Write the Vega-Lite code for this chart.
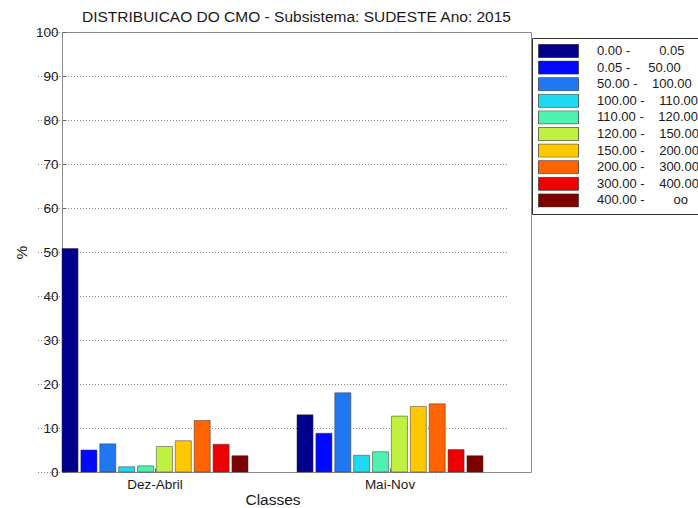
{
  "$schema": "https://vega.github.io/schema/vega-lite/v6.json",
  "width": 469,
  "height": 440,
  "autosize": {"type": "none"},
  "padding": {"left": 62, "top": 32, "right": 167, "bottom": 36},
  "background": "white",
  "title": {
    "text": "DISTRIBUICAO DO CMO - Subsistema: SUDESTE Ano: 2015",
    "font": "Liberation Sans",
    "fontSize": 15.5,
    "fontWeight": "normal",
    "color": "#1a1a1a",
    "anchor": "middle",
    "baseline": "alphabetic",
    "offset": 4,
    "dy": 16
  },
  "config": {
    "font": "Liberation Sans",
    "view": {"stroke": "#8c8c8c", "strokeWidth": 1}
  },
  "data": {
    "values": [
      {"periodo": "Dez-Abril", "classe": "0.00 - 0.05", "valor": 50.8},
      {"periodo": "Dez-Abril", "classe": "0.05 - 50.00", "valor": 5.0},
      {"periodo": "Dez-Abril", "classe": "50.00 - 100.00", "valor": 6.4},
      {"periodo": "Dez-Abril", "classe": "100.00 - 110.00", "valor": 1.2},
      {"periodo": "Dez-Abril", "classe": "110.00 - 120.00", "valor": 1.4},
      {"periodo": "Dez-Abril", "classe": "120.00 - 150.00", "valor": 5.8},
      {"periodo": "Dez-Abril", "classe": "150.00 - 200.00", "valor": 7.1},
      {"periodo": "Dez-Abril", "classe": "200.00 - 300.00", "valor": 11.7},
      {"periodo": "Dez-Abril", "classe": "300.00 - 400.00", "valor": 6.3},
      {"periodo": "Dez-Abril", "classe": "400.00 - oo", "valor": 3.7},
      {"periodo": "Mai-Nov", "classe": "0.00 - 0.05", "valor": 13.0},
      {"periodo": "Mai-Nov", "classe": "0.05 - 50.00", "valor": 8.8},
      {"periodo": "Mai-Nov", "classe": "50.00 - 100.00", "valor": 18.0},
      {"periodo": "Mai-Nov", "classe": "100.00 - 110.00", "valor": 3.8},
      {"periodo": "Mai-Nov", "classe": "110.00 - 120.00", "valor": 4.6},
      {"periodo": "Mai-Nov", "classe": "120.00 - 150.00", "valor": 12.7},
      {"periodo": "Mai-Nov", "classe": "150.00 - 200.00", "valor": 14.9},
      {"periodo": "Mai-Nov", "classe": "200.00 - 300.00", "valor": 15.5},
      {"periodo": "Mai-Nov", "classe": "300.00 - 400.00", "valor": 5.1},
      {"periodo": "Mai-Nov", "classe": "400.00 - oo", "valor": 3.7}
    ]
  },
  "mark": {"type": "bar", "stroke": "#333333", "strokeWidth": 0.7, "strokeOpacity": 0.7},
  "encoding": {
    "x": {
      "field": "periodo",
      "type": "nominal",
      "scale": {"range": [-24.5, 445.5], "paddingInner": 0.2085, "paddingOuter": 0.10425},
      "axis": {
        "title": "Classes",
        "labelAngle": 0,
        "domain": false,
        "ticks": true,
        "tickSize": -4,
        "tickColor": "#666666",
        "labelPadding": 9,
        "labelFont": "Liberation Sans",
        "labelFontSize": 13.5,
        "labelColor": "#1a1a1a",
        "titleFont": "Liberation Sans",
        "titleFontSize": 15.5,
        "titleFontWeight": "normal",
        "titleColor": "#1a1a1a",
        "titlePadding": 2
      }
    },
    "xOffset": {
      "field": "classe",
      "type": "nominal",
      "scale": {
        "domain": ["0.00 - 0.05", "0.05 - 50.00", "50.00 - 100.00", "100.00 - 110.00", "110.00 - 120.00", "120.00 - 150.00", "150.00 - 200.00", "200.00 - 300.00", "300.00 - 400.00", "400.00 - oo"],
        "paddingInner": 0.15,
        "paddingOuter": 0
      }
    },
    "y": {
      "field": "valor",
      "type": "quantitative",
      "scale": {"domain": [0, 100], "nice": false},
      "axis": {
        "title": "%",
        "values": [0, 10, 20, 30, 40, 50, 60, 70, 80, 90, 100],
        "grid": true,
        "gridDash": [1, 2],
        "gridColor": "#888888",
        "gridWidth": 1,
        "domain": false,
        "ticks": true,
        "tickSize": -4,
        "tickColor": "#666666",
        "labelPadding": 8,
        "labelFont": "Liberation Sans",
        "labelFontSize": 13.5,
        "labelColor": "#1a1a1a",
        "titleFont": "Liberation Sans",
        "titleFontSize": 15.5,
        "titleFontWeight": "normal",
        "titleColor": "#1a1a1a",
        "titlePadding": 6
      }
    },
    "color": {
      "field": "classe",
      "type": "nominal",
      "scale": {
        "domain": ["0.00 - 0.05", "0.05 - 50.00", "50.00 - 100.00", "100.00 - 110.00", "110.00 - 120.00", "120.00 - 150.00", "150.00 - 200.00", "200.00 - 300.00", "300.00 - 400.00", "400.00 - oo"],
        "range": ["#00008c", "#0008ff", "#1f78f2", "#1fd8f2", "#50f0b0", "#c0f040", "#ffc800", "#ff6400", "#ee0000", "#7d0000"]
      },
      "legend": {
        "orient": "none",
        "legendX": 470,
        "legendY": 6,
        "title": null,
        "symbolType": "M-1,-0.333H1V0.333H-1Z",
        "symbolSize": 1600,
        "symbolStrokeColor": "#333333",
        "symbolStrokeWidth": 0.7,
        "symbolOpacity": 1,
        "clipHeight": 14,
        "rowPadding": 2.6,
        "padding": 6,
        "strokeColor": "#333333",
        "fillColor": "white",
        "labelFont": "Liberation Sans",
        "labelFontSize": 13,
        "labelColor": "#1a1a1a",
        "labelOffset": 18,
        "labelLimit": 0,
        "labelExpr": "{'0.00 - 0.05': '\u00a0\u00a00.00\u00a0-\u00a0\u00a0\u00a0\u00a0\u00a0\u00a0\u00a0\u00a00.05', '0.05 - 50.00': '\u00a0\u00a00.05\u00a0-\u00a0\u00a0\u00a0\u00a0\u00a050.00', '50.00 - 100.00': '\u00a050.00\u00a0-\u00a0\u00a0\u00a0\u00a0100.00', '100.00 - 110.00': '100.00\u00a0-\u00a0\u00a0\u00a0\u00a0110.00', '110.00 - 120.00': '110.00\u00a0-\u00a0\u00a0\u00a0\u00a0120.00', '120.00 - 150.00': '120.00\u00a0-\u00a0\u00a0\u00a0\u00a0150.00', '150.00 - 200.00': '150.00\u00a0-\u00a0\u00a0\u00a0\u00a0200.00', '200.00 - 300.00': '200.00\u00a0-\u00a0\u00a0\u00a0\u00a0300.00', '300.00 - 400.00': '300.00\u00a0-\u00a0\u00a0\u00a0\u00a0400.00', '400.00 - oo': '400.00\u00a0-\u00a0\u00a0\u00a0\u00a0\u00a0\u00a0\u00a0\u00a0oo'}[datum.label]"
      }
    }
  }
}
